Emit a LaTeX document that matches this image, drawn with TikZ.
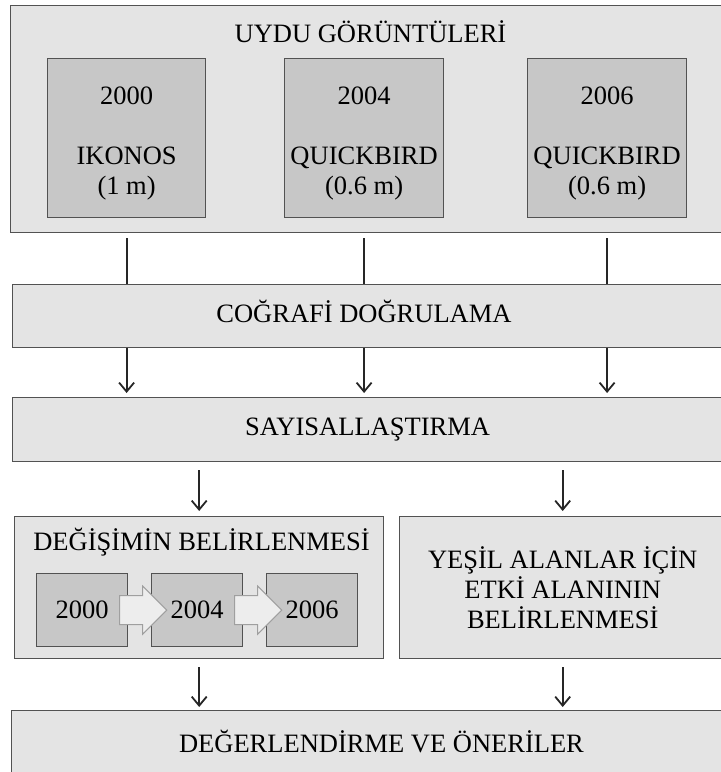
\documentclass[tikz,border=0pt]{standalone}
\usepackage{fontspec}
\setmainfont{Liberation Serif}
\usepackage{xcolor}
\usepackage{tikz}
\usetikzlibrary{
	arrows.meta,
	calc,
	positioning,
	shapes.arrows
}

\definecolor{boxgray}{gray}{0.895}
\definecolor{innergray}{gray}{0.78}
\definecolor{edgegray}{gray}{0.32}

\begin{document}
\begin{tikzpicture}[x=1pt, y=1pt,
		outerbox/.style={draw=edgegray, fill=boxgray, line width=1.4pt, inner sep=0pt, anchor=north west},
		innerbox/.style={draw=edgegray, fill=innergray, line width=1.2pt, inner sep=0pt, anchor=north west},
		lbl/.style={font=\fontsize{26.5}{30}\selectfont, inner sep=0pt, align=center},
		flow/.style={line width=1.8pt, draw=black!85},
		flowarrow/.style={flow, -{Straight Barb[length=9pt,width=15pt,line width=1.8pt]}},
		blockarrow/.style={single arrow, draw=gray!75, fill=gray!14, line width=1pt, minimum height=47pt, text height=28pt, text depth=0pt, single arrow head extend=9.5pt, inner sep=0pt, anchor=west}
	]
	\useasboundingbox (0,0) rectangle (721,-772);
	\clip (0,0) rectangle (721,-772);

	% uydu goruntuleri
	\node[outerbox, minimum width=730pt, minimum height=227pt] (uydu) at (10,-5) {};
	\node[lbl, anchor=base] (uyduT) at (370.5,-42) {UYDU GÖRÜNTÜLERİ};
	\node[innerbox, minimum width=158pt, minimum height=159pt] (i2000) at (47,-58) {};
	\node[innerbox, minimum width=159pt, minimum height=159pt] (i2004) at (284,-58) {};
	\node[innerbox, minimum width=159pt, minimum height=159pt] (i2006) at (527,-58) {};
	\node[lbl, anchor=north] (t2000) at ($(i2000.north)+(0,-29)$) {2000\\[30pt]IKONOS\\(1 m)};
	\node[lbl, anchor=north] (t2004) at ($(i2004.north)+(0,-29)$) {2004\\[30pt]QUICKBIRD\\(0.6 m)};
	\node[lbl, anchor=north] (t2006) at ($(i2006.north)+(0,-29)$) {2006\\[30pt]QUICKBIRD\\(0.6 m)};

	% ara adimlar
	\node[outerbox, minimum width=730pt, minimum height=63pt] (cog) at (11.5,-284) {};
	\node[lbl, anchor=base] (cogT) at (364,-322) {COĞRAFİ DOĞRULAMA};
	\node[outerbox, minimum width=730pt, minimum height=64pt] (sayi) at (11.5,-397) {};
	\node[lbl, anchor=base] (sayiT) at (367.5,-435) {SAYISALLAŞTIRMA};

	% degisim
	\node[outerbox, minimum width=369pt, minimum height=142pt] (degis) at (14,-516) {};
	\node[lbl, anchor=base] (degisT) at (201.5,-550) {DEĞİŞİMİN BELİRLENMESİ};
	\node[innerbox, lbl, minimum width=91pt, minimum height=73pt] (d2000) at (36,-573) {2000};
	\node[innerbox, lbl, minimum width=91pt, minimum height=73pt] (d2004) at (151,-573) {2004};
	\node[innerbox, lbl, minimum width=91pt, minimum height=73pt] (d2006) at (266,-573) {2006};
	\node[blockarrow] (a1) at ($(d2000.east)+(-9,0)$) {};
	\node[blockarrow] (a2) at ($(d2004.east)+(-9,0)$) {};

	\node[outerbox, lbl, minimum width=326pt, minimum height=142pt] (yesil) at (399,-516) {YEŞİL ALANLAR İÇİN\\ETKİ ALANININ\\BELİRLENMESİ};

	\node[outerbox, minimum width=740pt, minimum height=90pt] (deger) at (11,-710) {};
	\node[lbl, anchor=base] (degerT) at (381.5,-752) {DEĞERLENDİRME VE ÖNERİLER};

	% baglantilar
	\foreach \s in {i2000,i2004,i2006} {
		\draw[flow] ($(uydu.south -| \s.south)+(0,-5)$) -- (cog.north -| \s.south);
		\draw[flowarrow] (cog.south -| \s.south) -- ($(sayi.north -| \s.south)+(0,4)$);
	}
	\foreach \s in {degis,yesil} {
		\draw[flowarrow] ($(sayi.south -| \s.north)+(0,-8)$) -- ($(\s.north)+(0,5)$);
		\draw[flowarrow] ($(\s.south)+(0,-8)$) -- ($(deger.north -| \s.south)+(0,3)$);
	}
\end{tikzpicture}
\end{document}
